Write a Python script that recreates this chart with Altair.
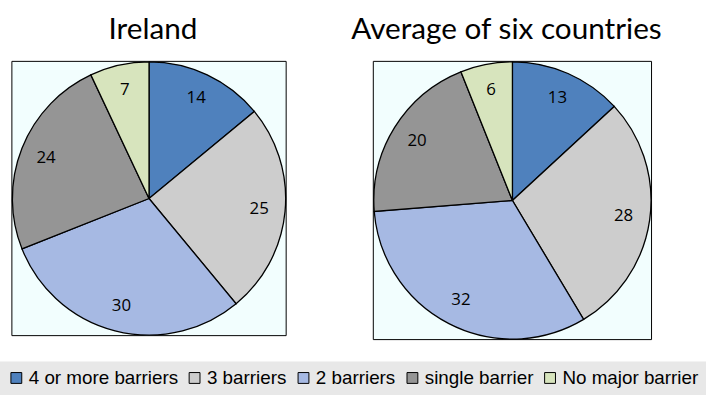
import altair as alt
import pandas as pd

categories = ["4 or more barriers", "3 barriers", "2 barriers", "single barrier", "No major barrier"]
ireland = [14, 25, 30, 24, 7]
average = [13, 28, 32, 20, 6]
colors = ["#4F81BD", "#CDCDCD", "#A6B9E3", "#959595", "#D7E4BD"]
titles = ["Ireland", "Average  of six countries"]

def frame(vals):
    return pd.DataFrame({"category": categories, "value": vals, "idx": list(range(len(categories)))})

color = alt.Color("category:N", scale=alt.Scale(domain=categories, range=colors),
                  legend=alt.Legend(title=None, orient="none", legendX=-12, legendY=303,
                                    direction="horizontal", columns=5))

def pie(vals, title, size, radius, dx):
    w, h = size
    box = alt.Chart(alt.Data(values=[{}])).mark_rect(
        fill="#F2FEFE", stroke="black", strokeWidth=1
    ).encode(x=alt.value(0), x2=alt.value(w), y=alt.value(0), y2=alt.value(h))
    base = alt.Chart(frame(vals)).encode(
        theta=alt.Theta("value:Q", stack=True),
        order=alt.Order("idx:Q"),
    )
    arc = base.mark_arc(outerRadius=radius, stroke="black", strokeWidth=1.3).encode(color=color)
    txt = base.mark_text(radius=radius * 0.81, font="Open Sans", fontSize=17, color="black").encode(
        text=alt.Text("value:Q"))
    return (box + arc + txt).properties(
        width=w, height=h,
        title=alt.TitleParams(title, font="Lato", fontSize=30, fontWeight="normal",
                              color="black", offset=14, dx=dx),
    )

left = pie(ireland, titles[0], (277, 277), 138, 4)
right = pie(average, titles[1], (281, 281), 140, -6)

chart = alt.hconcat(left, right, spacing=88, bounds="flush").properties(
    padding={"left": 0, "top": 13, "right": 0, "bottom": 0}
).configure_view(
    stroke=None
).configure_legend(
    fillColor="#E8E8E8", padding=7, columnPadding=7, labelOffset=3,
    symbolType="square", symbolSize=120, symbolStrokeColor="black", symbolStrokeWidth=1,
    labelFont="Liberation Sans", labelFontSize=19, labelColor="black", symbolOpacity=1,
    labelLimit=400
)

chart.save("out.html", embed_options={"renderer": "svg", "actions": False})
